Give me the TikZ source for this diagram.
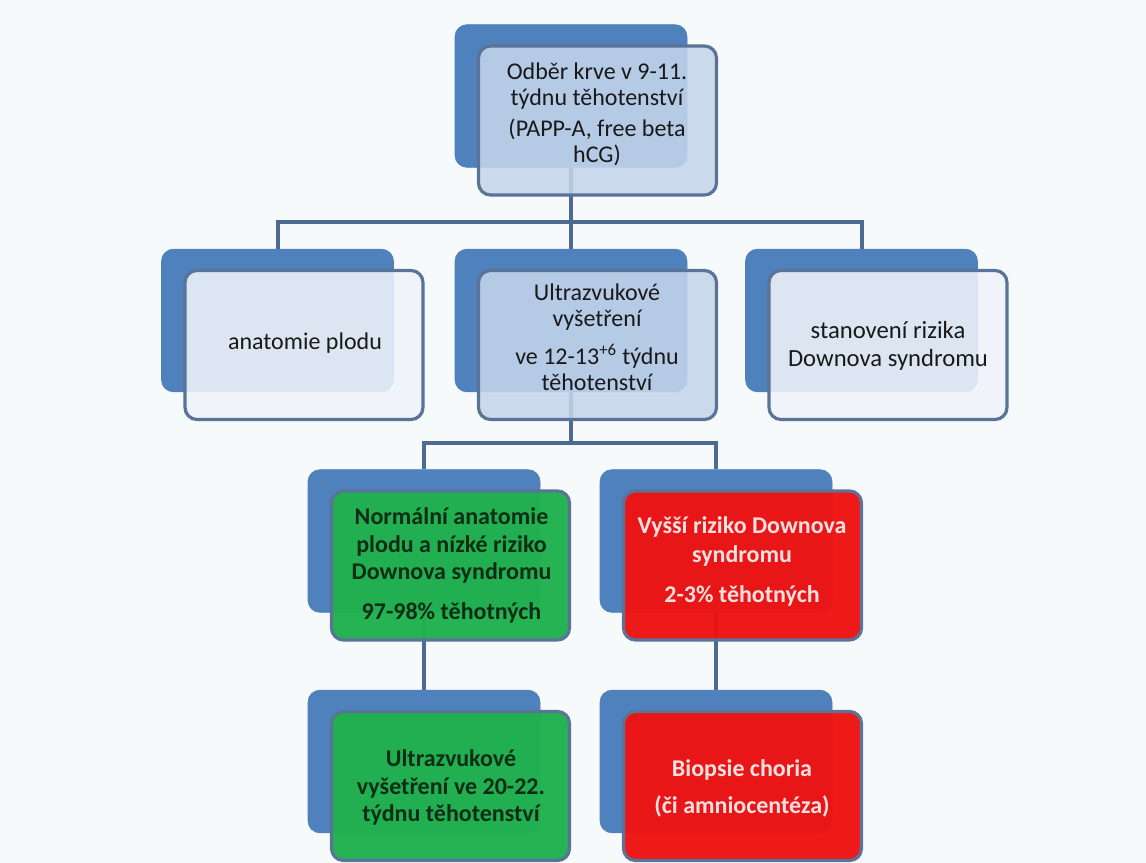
\documentclass[tikz,border=0pt]{standalone}
\usepackage{fontspec}
\setmainfont{Carlito}
\usetikzlibrary{backgrounds}
\definecolor{bgcol}{HTML}{F7FAFA}
\definecolor{connblue}{HTML}{4D6A91}
\definecolor{backblue}{HTML}{4F81BD}
\definecolor{frontedge}{HTML}{5A7399}
\definecolor{lightblue}{HTML}{C4D5EB}
\definecolor{paleblue}{HTML}{F0F4FA}
\definecolor{boxgreen}{HTML}{20B14F}
\definecolor{boxred}{HTML}{EE1313}
\definecolor{greentext}{HTML}{0F2D14}
\definecolor{redtext}{HTML}{FBE0E0}
\begin{document}
\begin{tikzpicture}[x=0.75pt,y=-0.75pt,
  backbox/.style={rectangle, rounded corners=9pt, fill=backblue, draw=backblue, line width=0.5pt, minimum width=174pt, minimum height=107pt, inner sep=0pt},
  frontbox/.style={rectangle, rounded corners=9pt, draw=frontedge, line width=2.4pt, fill opacity=0.88, minimum width=178.5pt, minimum height=111.75pt, inner sep=0pt},
  solidbox/.style={frontbox, fill opacity=0.97},
  conn/.style={draw=connblue, line width=3pt},
  txt/.style={align=center, inner sep=0pt, text=black!90},
  tight/.style={font=\fontsize{18}{19.5}\selectfont},
  loose/.style={font=\fontsize{18.5}{21}\selectfont}
]
\useasboundingbox (0,0) rectangle (1146,863);
% back boxes
\node[backbox] (topB) at (571,96) {};
\node[backbox] (L2lB) at (277.5,320.5) {};
\node[backbox] (midB) at (571,320.5) {};
\node[backbox] (L2rB) at (861.5,320.5) {};
\node[backbox] (gB) at (424,541) {};
\node[backbox] (rB) at (716,541) {};
\node[backbox] (g4B) at (424,761.5) {};
\node[backbox] (r4B) at (716,761.5) {};
% front boxes
\node[frontbox, fill=lightblue] (topF) at (597.5,120.5) {};
\node[frontbox, fill=paleblue] (L2lF) at (304,345) {};
\node[frontbox, fill=lightblue] (midF) at (597.5,345) {};
\node[frontbox, fill=paleblue] (L2rF) at (888,345) {};
\node[solidbox, fill=boxgreen] (gF) at (450.5,565.5) {};
\node[solidbox, fill=boxred] (rF) at (742.5,565.5) {};
\node[solidbox, fill=boxgreen] (g4F) at (450.5,786) {};
\node[solidbox, fill=boxred] (r4F) at (742.5,786) {};
% texts
\node[txt, tight] (t1) at (597,114) {Odběr krve v 9-11.\\ týdnu těhotenství\\[4pt] (PAPP-A, free beta\\ hCG)};
\node[txt, tight] (t2) at (597,337) {Ultrazvukové\\ vyšetření\\[9pt] ve 12-13\textsuperscript{+6} týdnu\\ těhotenství};
\node[txt, tight] (t3) at (305,343) {anatomie plodu};
\node[txt, loose] (t4) at (888,346) {stanovení rizika\\ Downova syndromu};
\node[txt, text=greentext, font=\fontsize{18}{20.5}\selectfont\bfseries] (t5) at (451.5,565.5) {Normální anatomie\\ plodu a nízké riziko\\ Downova syndromu\\[9.5pt] 97-98\% těhotných};
\node[txt, text=redtext, font=\fontsize{18}{22}\selectfont\bfseries] (t6) at (742,561.5) {Vyšší riziko Downova\\ syndromu\\[8pt] 2-3\% těhotných};
\node[txt, text=greentext, font=\fontsize{18}{20.5}\selectfont\bfseries] (t7) at (451,787.5) {Ultrazvukové\\ vyšetření ve 20-22.\\ týdnu těhotenství};
\node[txt, text=redtext, font=\fontsize{18}{27.5}\selectfont\bfseries] (t8) at (742,788.5) {Biopsie choria\\ (či amniocentéza)};
% connectors and background
\coordinate (bus1) at (571,222);
\coordinate (bus2) at (571,443);
\begin{pgfonlayer}{background}
\fill[bgcol] (0,0) rectangle (1146,863);
\draw[conn] (topB.south) -- (midB.north);
\draw[conn] (L2lB.north) -- (L2lB.north |- bus1) -| (L2rB.north);
\draw[conn] (midB.south) -- (bus2);
\draw[conn] (gB.north) -- (gB.north |- bus2) -| (rB.north);
\draw[conn] (gB.south) -- (g4B.north);
\draw[conn] (rB.south) -- (r4B.north);
\end{pgfonlayer}
\end{tikzpicture}
\end{document}
